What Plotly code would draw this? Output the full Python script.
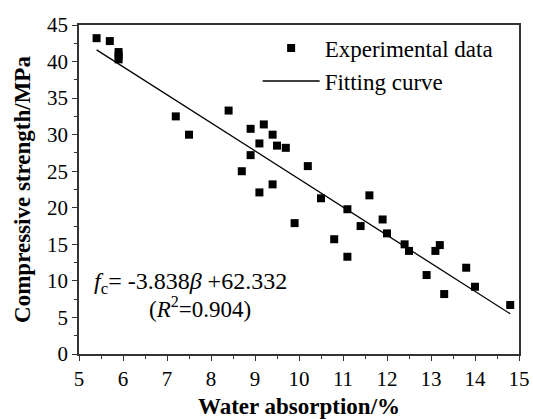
import plotly.graph_objects as go

water_abs = [5.4, 5.7, 5.9, 5.9, 5.9, 7.2, 7.5, 8.4, 8.9, 9.2, 9.4, 9.1, 9.5, 9.7, 8.9,
             8.7, 9.1, 9.4, 10.2, 9.9, 10.5, 10.8, 11.1, 11.1, 11.4, 11.6, 11.9, 12.0,
             12.4, 12.5, 12.9, 13.1, 13.2, 13.3, 13.8, 14.0, 14.8]
strength = [43.2, 42.8, 41.3, 40.8, 40.3, 32.5, 30.0, 33.3, 30.8, 31.4, 30.0, 28.8, 28.5, 28.2, 27.2,
            25.0, 22.1, 23.2, 25.7, 17.9, 21.3, 15.7, 19.8, 13.3, 17.5, 21.7, 18.4, 16.5,
            15.0, 14.1, 10.8, 14.1, 14.9, 8.2, 11.8, 9.2, 6.7]
fit_x = [5.4, 14.8]
fit_y = [41.6, 5.5]

FONT = "Liberation Serif, Times New Roman, serif"

fig = go.Figure()
fig.add_trace(go.Scatter(x=water_abs, y=strength, mode="markers", name="Experimental data",
                         marker=dict(symbol="square", size=8, color="black")))
fig.add_trace(go.Scatter(x=fit_x, y=fit_y, mode="lines", name="Fitting curve",
                         line=dict(color="black", width=1.3)))

axis_common = dict(showline=True, linecolor="#333", linewidth=1.5, mirror=True,
                   ticks="outside", ticklen=5, tickwidth=1.3, tickcolor="#333",
                   showgrid=False, zeroline=False, automargin=False,
                   tickfont=dict(family=FONT, size=21, color="black"))

fig.update_xaxes(range=[5, 15], dtick=1, tick0=5,
                 minor=dict(dtick=0.5, ticks="outside", ticklen=3, tickcolor="#333"),
                 title=dict(text="<b>Water absorption/%</b>", font=dict(family=FONT, size=23, color="black"), standoff=8),
                 **axis_common)
fig.update_yaxes(range=[0, 45], dtick=5, tick0=0,
                 minor=dict(dtick=2.5, ticks="outside", ticklen=3, tickcolor="#333"),
                 title=dict(text="<b>Compressive strength/MPa</b>", font=dict(family=FONT, size=23, color="black"), standoff=10),
                 **axis_common)

fig.add_annotation(x=0.03, y=0.217, xref="paper", yref="paper", xanchor="left", yanchor="middle",
                   text="<i>f</i><sub>c</sub>= -3.838<i>β</i> +62.332", showarrow=False,
                   font=dict(family=FONT, size=24, color="black"))
fig.add_annotation(x=0.275, y=0.142, xref="paper", yref="paper", xanchor="center", yanchor="middle",
                   text="(<i>R</i><sup>2</sup>=0.904)", showarrow=False,
                   font=dict(family=FONT, size=23, color="black"))

fig.update_layout(width=533, height=419,
                  margin=dict(l=79, r=14, t=25, b=65),
                  paper_bgcolor="white", plot_bgcolor="white",
                  showlegend=True,
                  legend=dict(x=0.406, y=0.995, xanchor="left", yanchor="top",
                              bgcolor="rgba(0,0,0,0)", font=dict(family=FONT, size=23, color="black"),
                              itemwidth=57, tracegroupgap=0))

fig.write_html("out.html", config={"displayModeBar": False},
               post_script="document.body.style.margin='0';")
